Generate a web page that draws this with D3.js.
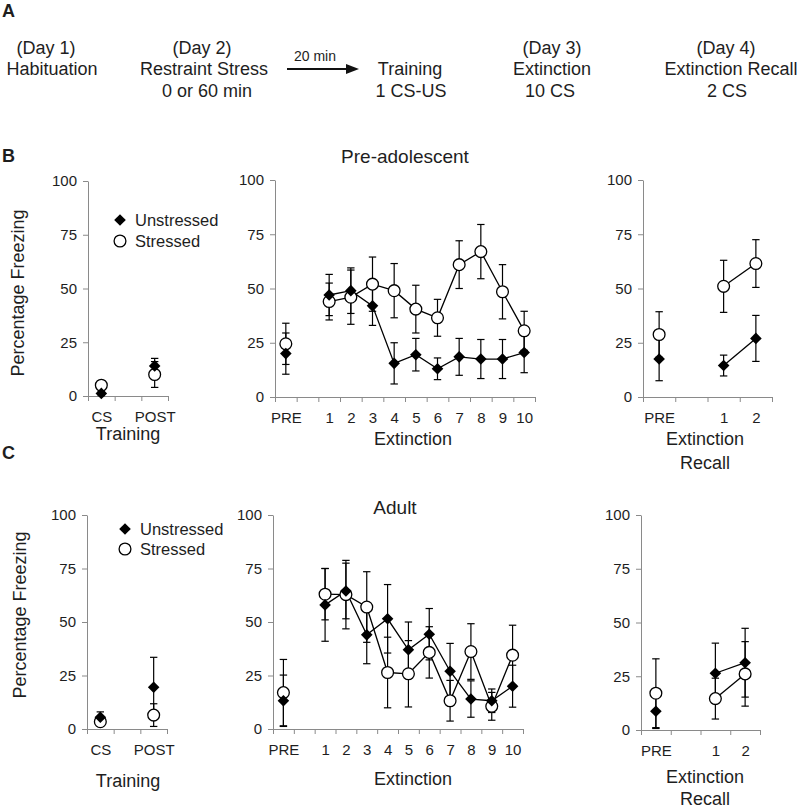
<!DOCTYPE html>
<html><head><meta charset="utf-8">
<script src="https://cdn.jsdelivr.net/npm/d3@7"></script>
<style>
html,body{margin:0;padding:0;background:#fff;}
svg{display:block;font-family:"Liberation Sans",Arial,sans-serif;}
</style></head>
<body><svg id="c" width="800" height="808"></svg>
<script>
// ---------- DATA ----------
const yTicks = [0, 25, 50, 75, 100];
const trainCats = ["CS", "", "POST"];
const extCats = ["PRE", "", "1", "2", "3", "4", "5", "6", "7", "8", "9", "10"];
const recallCats = ["PRE", "", "1", "2"];

// Pre-adolescent (B)
const preTrainUnstressed = [1.2, null, 14];
const preTrainUnstressedErr = [1, null, 3.5];
const preTrainStressed = [5, null, 10];
const preTrainStressedErr = [2, null, 6];
const preExtUnstressed = [20, null, 47, 49, 42, 15.5, 19.5, 13, 18.5, 17.5, 17.5, 20.5];
const preExtUnstressedErr = [9.5, null, 9.5, 10.5, 9, 9.5, 7.5, 5, 8.5, 9, 9, 9.3];
const preExtStressed = [24.5, null, 44, 46, 52, 49, 40.5, 36.5, 61, 67, 48.5, 30.5];
const preExtStressedErr = [9.5, null, 8.5, 12.5, 12.5, 12.5, 11, 8.5, 11, 12.5, 12.5, 9];
const preRecUnstressed = [17.5, null, 14.5, 27];
const preRecUnstressedErr = [10, null, 4.8, 10.6];
const preRecStressed = [28.8, null, 51, 61.5];
const preRecStressedErr = [10.5, null, 12, 11];

// Adult (C)
const adTrainUnstressed = [5.5, null, 19.5];
const adTrainUnstressedErr = [2.5, null, 14];
const adTrainStressed = [3.4, null, 6.5];
const adTrainStressedErr = [2, null, 5.3];
const adExtUnstressed = [13.2, null, 58, 64.5, 44, 51.5, 37, 44.3, 27, 14, 13.2, 20];
const adExtUnstressedErr = [12, null, 17, 13, 13.5, 16, 13, 12, 13, 8.5, 5.5, 9.8];
const adExtStressed = [17, null, 63, 62.8, 57, 26.4, 25.8, 35.8, 13.2, 36.2, 10.6, 34.5];
const adExtStressedErr = [15.5, null, 12, 16, 16.5, 16.5, 15.5, 12, 9.5, 13, 6.5, 14];
const adRecUnstressed = [8.7, null, 26.4, 31.3];
const adRecUnstressedErr = [8, null, 14, 16];
const adRecStressed = [17.1, null, 14.6, 26.1];
const adRecStressedErr = [16, null, 9.5, 15];

const legendLabels = ["Unstressed", "Stressed"];

// ---------- DRAWING ----------
const svg = d3.select("#c");
const AX = "#8a8a8a", TX = "#1e1e1e";

function txt(x, y, s, size, anchor, weight) {
  return svg.append("text").attr("x", x).attr("y", y).attr("font-size", size)
    .attr("text-anchor", anchor || "middle").attr("font-weight", weight || "normal")
    .attr("fill", TX).text(s);
}

// Panel A
txt(2, 17, "A", 18, "start", "bold");
const rowY = [54, 75, 97];
txt(46, rowY[0], "(Day 1)", 18); txt(52, rowY[1], "Habituation", 18);
txt(202, rowY[0], "(Day 2)", 18); txt(204, rowY[1], "Restraint Stress", 18); txt(207, rowY[2], "0 or 60 min", 18);
txt(315, 61, "20 min", 14);
svg.append("line").attr("x1", 287).attr("x2", 348).attr("y1", 69).attr("y2", 69).attr("stroke", "#111").attr("stroke-width", 2);
svg.append("path").attr("d", "M346,64 L359,69 L346,74 Z").attr("fill", "#111");
txt(410, rowY[1], "Training", 18); txt(411, rowY[2], "1 CS-US", 18);
txt(552, rowY[0], "(Day 3)", 18); txt(552, rowY[1], "Extinction", 18); txt(550, rowY[2], "10 CS", 18);
txt(726, rowY[0], "(Day 4)", 18); txt(731, rowY[1], "Extinction Recall", 18); txt(727, rowY[2], "2 CS", 18);

function diamond(g, x, y) {
  const s = 5.8;
  g.append("path").attr("d", `M${x},${y - s} L${x + s},${y} L${x},${y + s} L${x - s},${y} Z`).attr("fill", "#000");
}
function circ(g, x, y) {
  g.append("circle").attr("cx", x).attr("cy", y).attr("r", 5.9).attr("fill", "#fff")
    .attr("stroke", "#000").attr("stroke-width", 1.3);
}

function panel(cfg) {
  const n = cfg.cats.length;
  const x = d3.scaleLinear().domain([0, n]).range([cfg.x0, cfg.x1]);
  const y = d3.scaleLinear().domain([0, 100]).range([cfg.yb, cfg.yt]);
  const g = svg.append("g");

  // y axis
  const ya = g.append("g").attr("transform", `translate(${cfg.x0},0)`)
    .call(d3.axisLeft(y).tickValues(yTicks).tickSize(5).tickSizeOuter(0).tickPadding(6));
  ya.selectAll("path,line").attr("stroke", AX);
  ya.selectAll("text").attr("font-size", 15).attr("fill", TX).attr("font-family", null);

  // x axis (ticks at category boundaries)
  const xa = g.append("g").attr("transform", `translate(0,${cfg.yb})`)
    .call(d3.axisBottom(x).tickValues(d3.range(n + 1)).tickSize(5).tickSizeOuter(0).tickFormat(""));
  xa.selectAll("path,line").attr("stroke", AX);
  const xl = g.append("g").attr("transform", `translate(0,${cfg.yb})`)
    .call(d3.axisBottom(x).tickValues(d3.range(n).map(i => i + 0.5)).tickSize(0).tickPadding(15)
      .tickFormat(v => cfg.cats[Math.floor(v)]));
  xl.select(".domain").remove();
  xl.selectAll("text").attr("font-size", 15).attr("fill", TX).attr("font-family", null);

  const series = [
    { vals: cfg.u, errs: cfg.ue, kind: "d" },
    { vals: cfg.s, errs: cfg.se, kind: "c" }
  ];
  // error bars
  series.forEach(sr => {
    sr.vals.forEach((v, i) => {
      if (v == null) return;
      const cx = x(i + 0.5), e = sr.errs[i];
      const top = y(Math.min(100, v + e)), bot = y(Math.max(0, v - e));
      g.append("line").attr("x1", cx).attr("x2", cx).attr("y1", top).attr("y2", bot).attr("stroke", "#000").attr("stroke-width", 1.2);
      [top, bot].forEach(yy => g.append("line").attr("x1", cx - 3.7).attr("x2", cx + 3.7).attr("y1", yy).attr("y2", yy).attr("stroke", "#000").attr("stroke-width", 1.2));
    });
  });
  // connecting lines
  if (cfg.lineFrom != null) {
    series.forEach(sr => {
      const pts = sr.vals.map((v, i) => [i, v]).filter(p => p[0] >= cfg.lineFrom && p[1] != null);
      g.append("path").datum(pts)
        .attr("d", d3.line().x(p => x(p[0] + 0.5)).y(p => y(p[1])))
        .attr("fill", "none").attr("stroke", "#000").attr("stroke-width", 1.3);
    });
  }
  // markers
  series.slice().reverse().forEach(sr => {
    sr.vals.forEach((v, i) => {
      if (v == null) return;
      if (sr.kind === "d") diamond(g, x(i + 0.5), y(v)); else circ(g, x(i + 0.5), y(v));
    });
  });
  // axis titles
  cfg.titles.forEach(t => txt(t[0], t[1], t[2], 18));
}

function legend(x, y1, y2) {
  diamond(svg, x, y1);
  circ(svg, x, y2);
  txt(x + 15, y1 + 6, legendLabels[0], 16.5, "start");
  txt(x + 15, y2 + 6, legendLabels[1], 16.5, "start");
}

function yTitle(x, yc) {
  svg.append("text").attr("transform", `translate(${x + 6},${yc}) rotate(-90)`)
    .attr("text-anchor", "middle").attr("font-size", 18).attr("fill", TX).text("Percentage Freezing");
}

// Panel B
txt(2, 162, "B", 18, "start", "bold");
txt(405, 163, "Pre-adolescent", 19);
yTitle(18, 293);
panel({ x0: 88, x1: 168, yt: 181, yb: 396, cats: trainCats,
  u: preTrainUnstressed, ue: preTrainUnstressedErr, s: preTrainStressed, se: preTrainStressedErr,
  lineFrom: null, titles: [[128, 440, "Training"]] });
legend(120, 220, 241);
panel({ x0: 275, x1: 535, yt: 180, yb: 397, cats: extCats,
  u: preExtUnstressed, ue: preExtUnstressedErr, s: preExtStressed, se: preExtStressedErr,
  lineFrom: 2, titles: [[413, 445, "Extinction"]] });
panel({ x0: 643, x1: 772, yt: 180, yb: 397, cats: recallCats,
  u: preRecUnstressed, ue: preRecUnstressedErr, s: preRecStressed, se: preRecStressedErr,
  lineFrom: 2, titles: [[705, 445, "Extinction"], [705, 469, "Recall"]] });

// Panel C
txt(2, 459, "C", 18, "start", "bold");
txt(395, 514, "Adult", 19);
yTitle(20, 615);
panel({ x0: 87, x1: 167, yt: 515, yb: 729, cats: trainCats,
  u: adTrainUnstressed, ue: adTrainUnstressedErr, s: adTrainStressed, se: adTrainStressedErr,
  lineFrom: null, titles: [[128, 787, "Training"]] });
legend(125, 529, 549);
panel({ x0: 273, x1: 523, yt: 515, yb: 729, cats: extCats,
  u: adExtUnstressed, ue: adExtUnstressedErr, s: adExtStressed, se: adExtStressedErr,
  lineFrom: 2, titles: [[413, 785, "Extinction"]] });
panel({ x0: 641, x1: 760, yt: 515, yb: 730, cats: recallCats,
  u: adRecUnstressed, ue: adRecUnstressedErr, s: adRecStressed, se: adRecStressedErr,
  lineFrom: 2, titles: [[705, 783, "Extinction"], [705, 805, "Recall"]] });
</script></body></html>
